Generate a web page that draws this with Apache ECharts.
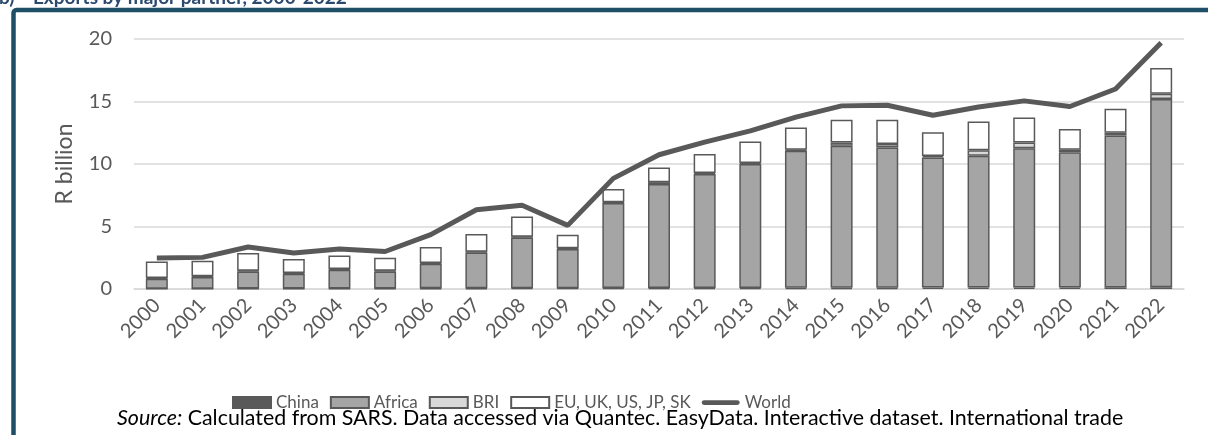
<!DOCTYPE html>
<html><head><meta charset="utf-8">
<script src="https://cdn.jsdelivr.net/npm/echarts@6/dist/echarts.min.js"></script>
<style>html,body{margin:0;padding:0;background:#fff}#c{width:1208px;height:435px}</style>
</head><body><div id="c"></div>
<script>
const years = ['2000','2001','2002','2003','2004','2005','2006','2007','2008','2009','2010','2011','2012','2013','2014','2015','2016','2017','2018','2019','2020','2021','2022'];
const china = [0.03,0.03,0.04,0.04,0.05,0.05,0.06,0.06,0.07,0.07,0.08,0.08,0.09,0.09,0.1,0.1,0.1,0.12,0.12,0.12,0.12,0.13,0.14];
const africa = [0.79,0.93,1.37,1.18,1.49,1.36,1.96,2.87,4.06,3.13,6.8,8.32,9.11,9.91,10.96,11.36,11.22,10.4,10.54,11.15,10.83,12.15,15.06];
const bri = [0.06,0.06,0.06,0.06,0.06,0.06,0.06,0.06,0.06,0.06,0.06,0.15,0.08,0.08,0.08,0.27,0.28,0.12,0.44,0.45,0.2,0.22,0.42];
const euEtc = [1.32,1.24,1.41,1.12,1.09,1.03,1.28,1.41,1.62,1.08,1.06,1.18,1.52,1.73,1.79,1.81,1.94,1.91,2.3,2.01,1.65,1.92,2.06];
const world = [2.48,2.53,3.36,2.88,3.2,3.0,4.35,6.34,6.7,5.09,8.85,10.74,11.75,12.65,13.75,14.65,14.7,13.9,14.56,15.05,14.6,16.0,19.7];
const yTicks = [0,5,10,15,20];

const FONT = 'Lato';
const chart = echarts.init(document.getElementById('c'), null, {renderer:'canvas'});
const barBase = {type:'bar', stack:'t', barWidth:22, itemStyle:{borderColor:'#595959', borderWidth:1.5}};
chart.setOption({
  animation:false,
  textStyle:{fontFamily:FONT},
  grid:{left:134, right:24, top:39, bottom:146},
  legend:{
    left:227, top:389, itemWidth:38, itemHeight:11, itemGap:11,
    textStyle:{fontSize:17, color:'#595959', fontFamily:FONT},
    data:[
      {name:'China', icon:'rect'},
      {name:'Africa', icon:'rect'},
      {name:'BRI', icon:'rect'},
      {name:'EU, UK, US, JP, SK', icon:'rect'},
      {name:'World', icon:'path://M2.5,0H37.5A2.5,2.5,0,0,1,37.5,5H2.5A2.5,2.5,0,0,1,2.5,0Z'}
    ]
  },
  xAxis:{
    type:'category', data:years,
    axisLine:{lineStyle:{color:'#D9D9D9', width:1.5}},
    axisTick:{show:false},
    axisLabel:{rotate:45, fontSize:20, color:'#595959', margin:13, interval:0, fontFamily:FONT}
  },
  yAxis:{
    type:'value', min:yTicks[0], max:yTicks[yTicks.length-1], interval:5,
    name:'R billion', nameLocation:'middle', nameRotate:90, nameGap:58,
    nameTextStyle:{fontSize:23, color:'#595959', fontFamily:FONT},
    axisLine:{show:false}, axisTick:{show:false},
    axisLabel:{fontSize:20, color:'#595959', margin:22, fontFamily:FONT},
    splitLine:{lineStyle:{color:'#D9D9D9', width:1.5}}
  },
  series:[
    Object.assign({}, barBase, {name:'China', data:china, itemStyle:Object.assign({}, barBase.itemStyle, {color:'#595959'})}),
    Object.assign({}, barBase, {name:'Africa', data:africa, itemStyle:Object.assign({}, barBase.itemStyle, {color:'#A5A5A5'})}),
    Object.assign({}, barBase, {name:'BRI', data:bri, itemStyle:Object.assign({}, barBase.itemStyle, {color:'#D9D9D9'})}),
    Object.assign({}, barBase, {name:'EU, UK, US, JP, SK', data:euEtc, itemStyle:Object.assign({}, barBase.itemStyle, {color:'#FFFFFF'})}),
    {type:'line', name:'World', data:world, symbol:'none', showSymbol:false,
     lineStyle:{color:'#595959', width:5}, itemStyle:{color:'#595959'}, z:5}
  ],
  graphic:[
    {type:'rect', shape:{x:13.5, y:10, width:1300, height:600, r:3}, style:{fill:null, stroke:'#1F4E67', lineWidth:4.5}, silent:true, z:-1},
    {type:'text', left:-1, top:-12, style:{text:'b)    Exports by major partner, 2000-2022', font:'bold 19px '+FONT, fill:'#2C4A6E'}},
    {type:'text', left:117, top:408, style:{
      text:'{i|Source:} Calculated from SARS. Data accessed via Quantec. EasyData. Interactive dataset. International trade',
      font:'21.4px '+FONT, fill:'#000',
      rich:{i:{fontStyle:'italic', fontSize:21.4, fontFamily:FONT, fill:'#000'}}
    }}
  ]
});
</script></body></html>
